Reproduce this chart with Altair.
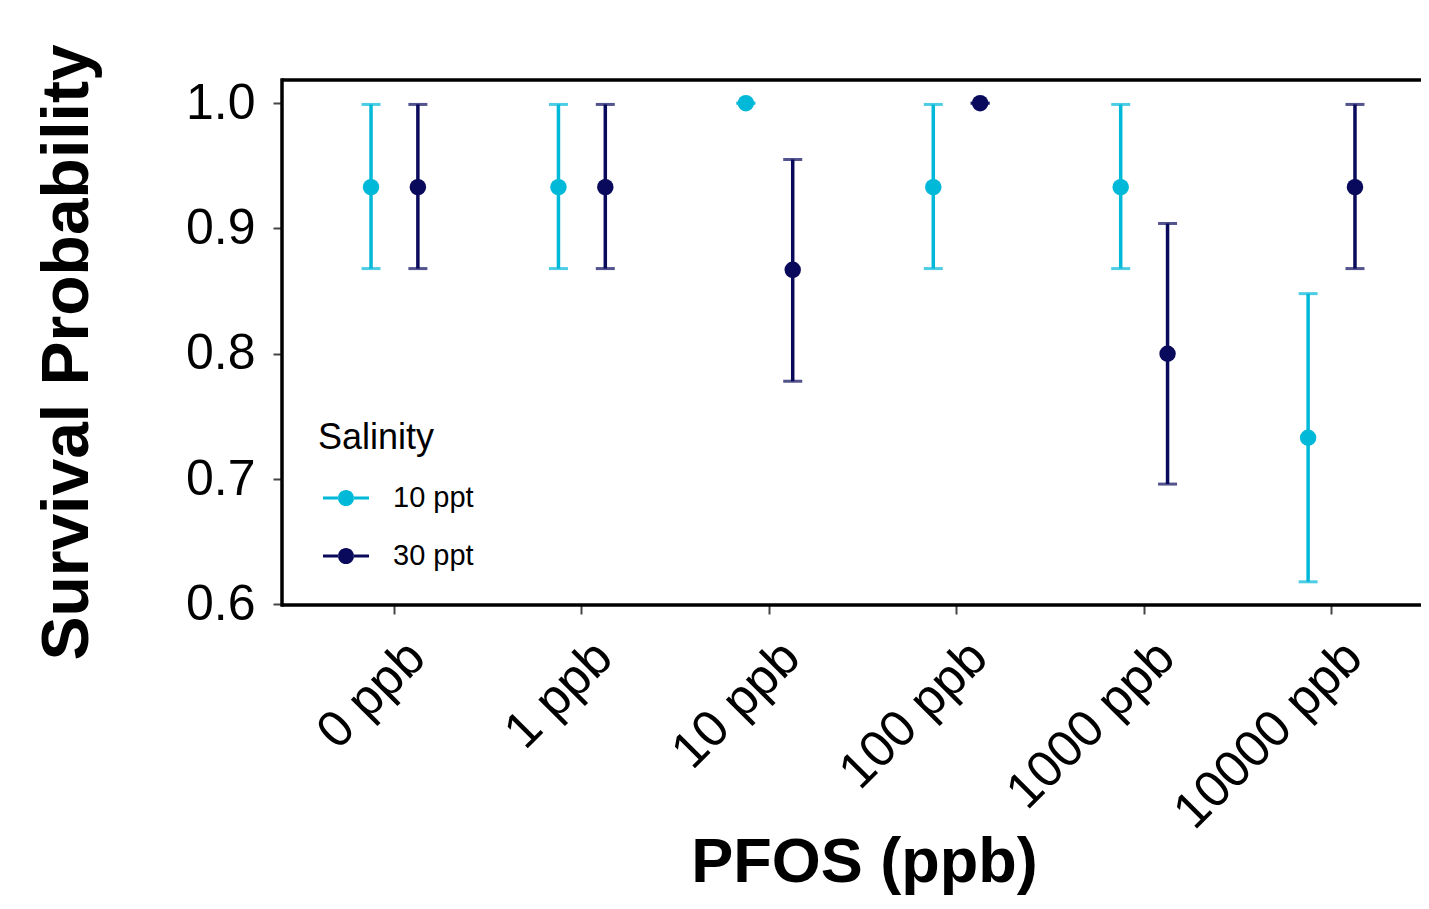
import altair as alt
import pandas as pd

conc = ["0 ppb", "1 ppb", "10 ppb", "100 ppb", "1000 ppb", "10000 ppb"]
salinity = ["10 ppt", "30 ppt"]
sal10_mean = [0.933, 0.933, 1.0, 0.933, 0.933, 0.733]
sal10_low = [0.868, 0.868, 1.0, 0.868, 0.868, 0.618]
sal10_high = [0.999, 0.999, 1.0, 0.999, 0.999, 0.848]
sal30_mean = [0.933, 0.933, 0.867, 1.0, 0.800, 0.933]
sal30_low = [0.868, 0.868, 0.778, 1.0, 0.696, 0.868]
sal30_high = [0.999, 0.999, 0.955, 1.0, 0.904, 0.999]
colors = ["#00B8D8", "#0A0A5C"]

rows = []
for s, m, lo, hi in [(salinity[0], sal10_mean, sal10_low, sal10_high),
                     (salinity[1], sal30_mean, sal30_low, sal30_high)]:
    for c, a, b, d in zip(conc, m, lo, hi):
        rows.append({"PFOS": c, "Salinity": s, "mean": a, "low": b, "high": d})
df = pd.DataFrame(rows)

W, H = 1139, 525
FONT = "Liberation Sans"
x_enc = alt.X("PFOS:N", sort=conc, title="PFOS (ppb)",
              scale=alt.Scale(paddingInner=0, paddingOuter=0.1, range=[0, 1162]),
              axis=alt.Axis(labelAngle=-45, labelAlign="right", labelBaseline="top",
                            labelFontSize=51, labelColor="black", labelPadding=18,
                            labelOffset=5, labelLimit=0, tickSize=9, tickWidth=2,
                            tickColor="#444", domain=False, titleFontSize=63,
                            titleFontWeight="bold", titleColor="black", titlePadding=26,
                            titleX=582, labelFont=FONT, titleFont=FONT))
xo = alt.XOffset("Salinity:N", sort=salinity,
                 scale=alt.Scale(paddingInner=0, paddingOuter=1.0))
yscale = alt.Scale(domain=[0.5995, 1.0185], nice=False, zero=False)
y_axis = alt.Axis(values=[0.6, 0.7, 0.8, 0.9, 1.0], format=".1f", labelFontSize=50,
                  labelColor="black", labelPadding=18, tickSize=9, tickWidth=2,
                  tickColor="#444", domain=False, grid=False, title="Survival Probability",
                  titleFontSize=66, titleFontWeight="bold", titleColor="black",
                  titlePadding=84, titleY=272, labelFont=FONT, titleFont=FONT)

legend_path = ("M-1,-0.065 L-0.34,-0.065 L-0.34,0.065 L-1,0.065 Z "
               "M0.34,-0.065 L1,-0.065 L1,0.065 L0.34,0.065 Z "
               "M0.35,0 A0.35,0.35 0 1,0 -0.35,0 A0.35,0.35 0 1,0 0.35,0 Z")
legend = alt.Legend(orient="none", legendX=36, legendY=341,
                    title="Salinity", titleFontSize=36,
                    titleFontWeight="normal", titleColor="black",
                    titleFont=FONT, titlePadding=18,
                    labelFontSize=29, labelColor="black", labelFont=FONT,
                    symbolType=legend_path, symbolSize=2116,
                    symbolStrokeWidth=0, symbolOffset=5,
                    labelOffset=24, rowPadding=20, symbolOpacity=1)
color = alt.Color("Salinity:N", sort=salinity,
                  scale=alt.Scale(domain=salinity, range=colors), legend=legend)

base = alt.Chart(df)

rules = base.mark_rule(strokeWidth=3.5).encode(
    x=x_enc, xOffset=xo,
    y=alt.Y("low:Q", scale=yscale, axis=y_axis), y2="high:Q", color=color)
caps_lo = base.mark_tick(size=19, thickness=3).encode(
    x=x_enc, xOffset=xo, y=alt.Y("low:Q", scale=yscale, axis=y_axis), color=color)
caps_hi = base.mark_tick(size=19, thickness=3).encode(
    x=x_enc, xOffset=xo, y=alt.Y("high:Q", scale=yscale, axis=y_axis), color=color)
points = base.mark_point(filled=True, size=270, opacity=1).encode(
    x=x_enc, xOffset=xo, y=alt.Y("mean:Q", scale=yscale, axis=y_axis), color=color)

frame_df = pd.DataFrame({"k": [0]})
frame = alt.Chart(frame_df)
top_line = frame.mark_rule(color="black", strokeWidth=3.5).encode(
    x=alt.value(0), x2=alt.value(W + 10), y=alt.value(0))
bottom_line = frame.mark_rule(color="black", strokeWidth=3.5).encode(
    x=alt.value(0), x2=alt.value(W + 10), y=alt.value(H))
left_line = frame.mark_rule(color="black", strokeWidth=3.5).encode(
    x=alt.value(0), y=alt.value(-1.7), y2=alt.value(H + 1.7))

chart = alt.layer(rules, caps_lo, caps_hi, points, top_line, bottom_line, left_line).properties(
    width=W, height=H,
    autosize=alt.AutoSizeParams(type="none"),
    padding={"left": 274, "top": 72, "right": 0, "bottom": 296},
).configure_view(stroke="transparent", strokeWidth=0)

chart.save("out.html", embed_options={"renderer": "svg", "actions": False})
